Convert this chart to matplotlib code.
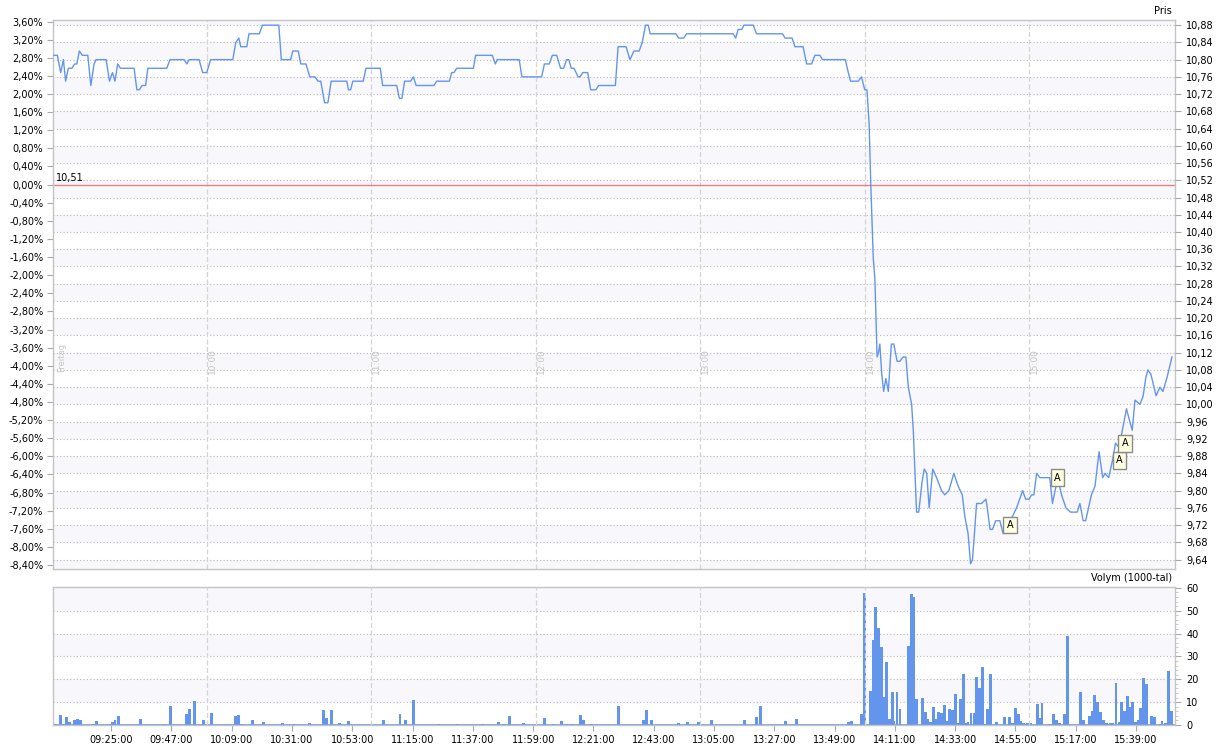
import matplotlib
matplotlib.use("Agg")
import matplotlib.pyplot as plt
import numpy as np

REF = 10.51  # reference price (0 %)

# intraday price, x = minutes after 09:00
price_min = [4.2, 5.4, 6.6, 7.6, 8.4, 9.4, 10.7, 11.7, 12.5, 13.4, 14.5, 16.5, 17.6, 18.8, 19.5,
             23.2, 24.4, 25.5, 26.4, 27.4, 28.4, 33.4, 34.4, 35.3, 36.3, 37.6, 38.4, 45.3, 46.5,
             51.7, 52.6, 53.5, 57.1, 58.4, 59.9, 61.3, 69.4, 70.5, 71.6, 72.3, 74.5, 75.3, 79.1,
             80.2, 86.2, 87.1, 90.5, 91.3, 93.3, 94.2, 96.1, 97.5, 99.4, 100.5, 101.5, 102.9,
             104.1, 105.3, 111.0, 111.6, 112.4, 113.2, 117.0, 118.0, 123.2, 124.1, 129.2, 130.2,
             131.1, 132.1, 134.3, 135.3, 136.3, 142.8, 143.8, 148.4, 149.3, 150.1, 151.1, 157.2,
             158.0, 164.1, 165.2, 165.9, 173.9, 174.9, 182.1, 183.1, 184.9, 186.0, 187.6, 189.0,
             190.1, 191.2, 192.0, 192.9, 193.9, 195.4, 196.1, 197.1, 198.9, 200.0, 201.9, 202.9,
             209.0, 210.0, 212.9, 214.3, 215.8, 217.7, 218.8, 220.0, 221.0, 221.7, 231.1, 232.1,
             233.9, 235.0, 252.0, 252.9, 253.8, 255.1, 255.9, 259.3, 260.5, 270.0, 270.9, 273.5,
             274.5, 277.5, 278.8, 280.6, 281.8, 283.6, 284.6, 292.9, 294.0, 294.8, 297.6, 298.8,
             300.0, 300.8, 301.6, 302.2, 303.1, 303.7, 304.5, 305.0, 305.5, 306.2, 306.9, 307.7,
             308.6, 309.7, 310.6, 311.8, 312.8, 314.0, 315.0, 315.9, 317.1, 317.7, 318.9, 319.7,
             320.9, 321.7, 322.6, 323.5, 324.8, 326.2, 328.0, 329.2, 330.7, 332.5, 334.1, 335.6,
             336.5, 337.7, 338.6, 339.3, 339.9, 340.8, 342.6, 344.2, 344.7, 345.7, 346.6, 347.8,
             349.3, 350.5, 351.5, 353.9, 355.4, 357.6, 358.7, 359.9, 360.9, 361.7, 362.7, 363.9,
             366.3, 367.5, 368.5, 370.4, 371.8, 373.4, 375.1, 377.5, 378.5, 379.7, 380.6, 382.7,
             384.0, 385.5, 386.8, 387.7, 389.0, 390.4, 391.5, 392.8, 395.5, 396.7, 397.6, 398.6,
             400.4, 401.6, 402.5, 403.3, 404.4, 406.3, 407.7, 408.8, 410.2, 412.1]
price = [10.81, 10.81, 10.77, 10.80, 10.75, 10.78, 10.78, 10.79, 10.79, 10.82, 10.81, 10.81, 10.74,
         10.79, 10.80, 10.80, 10.75, 10.77, 10.75, 10.79, 10.78, 10.78, 10.73, 10.73, 10.74, 10.74,
         10.78, 10.78, 10.80, 10.80, 10.79, 10.80, 10.80, 10.77, 10.77, 10.80, 10.80, 10.84, 10.85,
         10.83, 10.83, 10.86, 10.86, 10.88, 10.88, 10.80, 10.80, 10.82, 10.82, 10.79, 10.79, 10.76,
         10.76, 10.75, 10.75, 10.70, 10.70, 10.75, 10.75, 10.73, 10.73, 10.75, 10.75, 10.78, 10.78,
         10.74, 10.74, 10.71, 10.71, 10.75, 10.75, 10.76, 10.74, 10.74, 10.75, 10.75, 10.77, 10.77,
         10.78, 10.78, 10.81, 10.81, 10.79, 10.80, 10.80, 10.76, 10.76, 10.79, 10.79, 10.81, 10.81,
         10.78, 10.78, 10.80, 10.80, 10.78, 10.78, 10.76, 10.76, 10.77, 10.77, 10.73, 10.73, 10.74,
         10.74, 10.83, 10.83, 10.80, 10.82, 10.82, 10.84, 10.88, 10.88, 10.86, 10.86, 10.85, 10.85,
         10.86, 10.86, 10.85, 10.87, 10.87, 10.88, 10.88, 10.86, 10.86, 10.85, 10.85, 10.83, 10.83,
         10.79, 10.79, 10.81, 10.81, 10.80, 10.80, 10.77, 10.75, 10.75, 10.76, 10.73, 10.73, 10.65,
         10.51, 10.34, 10.29, 10.11, 10.12, 10.14, 10.07, 10.03, 10.06, 10.03, 10.14, 10.14, 10.10,
         10.10, 10.11, 10.11, 10.04, 10.00, 9.94, 9.75, 9.75, 9.82, 9.85, 9.84, 9.76, 9.85, 9.83,
         9.80, 9.79, 9.80, 9.84, 9.81, 9.79, 9.74, 9.70, 9.63, 9.64, 9.69, 9.77, 9.77, 9.78, 9.76,
         9.71, 9.71, 9.73, 9.73, 9.70, 9.72, 9.74, 9.76, 9.80, 9.78, 9.78, 9.79, 9.79, 9.84, 9.83,
         9.83, 9.83, 9.77, 9.83, 9.79, 9.76, 9.75, 9.75, 9.77, 9.73, 9.73, 9.79, 9.81, 9.89, 9.83,
         9.84, 9.83, 9.87, 9.91, 9.90, 9.99, 9.96, 9.94, 10.01, 10.00, 10.02, 10.06, 10.08, 10.07,
         10.02, 10.04, 10.03, 10.06, 10.11]

# volume per minute (1000-tal)
vol_min = [4.8, 6.5, 7.6, 8.7, 9.8, 11.7, 12.7, 13.8, 18.5, 19.6, 24.7, 25.5, 26.4, 27.6, 35.7, 44.4,
           46.6, 52.5, 53.5, 55.4, 58.7, 61.6, 70.3, 71.4, 72.5, 76.5, 80.5, 87.5, 91.5, 97.3, 102.4,
           103.5, 105.3, 108.3, 111.5, 124.3, 130.4, 132.3, 135.3, 144.4, 151.3, 160.4, 166.3, 168.1,
           170.3, 175.4, 183.1, 186.3, 189.3, 191.1, 193.3, 196.2, 197.3, 200.2, 210.1, 219.2, 220.3,
           222.1, 231.9, 235.2, 239.2, 244.0, 256.0, 260.6, 261.9, 271.0, 275.0, 294.1, 295.2, 298.9,
           300.0, 302.0, 303.1, 303.8, 304.9, 306.0, 307.1, 307.8, 308.9, 310.0, 310.7, 311.8, 312.9,
           315.9, 317.0, 318.0, 318.8, 321.0, 322.1, 322.8, 323.9, 325.0, 326.1, 326.8, 327.9, 329.0,
           330.1, 330.8, 331.9, 333.0, 334.1, 334.8, 335.9, 337.0, 337.7, 338.8, 339.9, 340.7, 341.8,
           342.9, 344.0, 344.7, 345.8, 348.0, 350.9, 352.7, 353.8, 354.9, 356.0, 356.7, 357.8, 359.3,
           360.7, 362.9, 364.0, 364.7, 367.3, 368.8, 369.9, 371.0, 372.8, 373.9, 378.6, 379.7, 381.9,
           383.0, 383.7, 384.8, 385.9, 387.0, 388.1, 389.6, 390.6, 391.7, 392.8, 393.6, 394.7, 395.8,
           396.8, 397.6, 398.7, 399.8, 400.5, 401.6, 402.7, 404.5, 405.6, 407.8, 408.5, 409.6, 410.7,
           411.8]
vol = [0.6, 4.5, 0.6, 3.6, 1.5, 2.3, 2.8, 2.3, 0.6, 1.9, 0.6, 1.5, 2.3, 4.1, 2.8, 0.6,
       8.5, 5.0, 7.2, 10.7, 2.3, 5.4, 4.1, 4.5, 0.6, 2.3, 1.5, 1.0, 0.6, 1.0, 6.7,
       3.2, 6.7, 1.0, 1.9, 2.3, 5.0, 2.3, 11.1, 0.6, 0.6, 0.6, 1.5, 0.6,
       4.1, 1.0, 3.2, 0.6, 1.9, 0.6, 0.6, 4.5, 2.3, 0.6, 8.5, 2.3, 6.7,
       2.3, 1.0, 1.5, 1.5, 2.3, 2.3, 3.6, 8.5, 1.9, 2.8, 1.5, 1.9, 5.0,
       57.8, 14.9, 37.4, 51.8, 42.6, 34.2, 12.4, 27.7, 2.8, 14.5, 1.9, 14.5, 7.2,
       34.7, 57.4, 56.2, 11.4, 12.0, 5.8, 2.8, 1.5, 8.0, 2.6, 5.8, 5.4, 8.9,
       1.9, 7.2, 6.7, 13.7, 1.0, 11.5, 22.5, 1.0, 1.5, 5.4, 5.1, 21.2, 16.1,
       25.5, 0.6, 7.2, 22.5, 1.5, 3.6, 3.6, 1.0, 7.6, 5.0, 1.9, 1.0, 1.0,
       1.0, 9.3, 3.2, 9.8, 0.6, 5.0, 2.3, 1.0, 5.0, 39.0, 14.5, 2.3, 4.1,
       6.3, 13.1, 10.2, 5.8, 2.3, 1.0, 1.0, 1.0, 18.4, 1.5, 10.2, 6.3, 12.8,
       8.0, 10.2, 1.5, 2.3, 7.6, 20.7, 18.1, 4.1, 3.6, 0.6, 1.9, 1.0, 23.8,
       6.3]

# "A" markers on the price line
ann_min = [353.0, 370.3, 392.9, 394.9]
ann_price = [9.72, 9.83, 9.87, 9.91]

BLUE = "#6495ed"
GRID = "#b8b8b8"
BAND = "#f8f8fc"
SPINE = "#c4c4c4"
HOURC = "#d4d4d4"

pct_ticks = np.linspace(-8.4, 3.6, 31)
price_ticks = np.round(np.arange(9.64, 10.8801, 0.04), 2)
hours = [60, 120, 180, 240, 300, 360]
time_ticks = list(range(25, 400, 22))
XLIM = (3.8, 413.2)
YLIM = (9.618, 10.892)


def fmt_time(m):
    h, mm = divmod(int(m), 60)
    return f"{h + 9:02d}:{mm:02d}:00"


def style_spines(a):
    for s in a.spines.values():
        s.set_color(SPINE)
        s.set_linewidth(1.0)


fig = plt.figure(figsize=(12.19, 7.51), dpi=100)
ax = fig.add_axes([53 / 1219, 1 - 569 / 751, 1122 / 1219, 549 / 751])
axv = fig.add_axes([53 / 1219, 1 - 725 / 751, 1122 / 1219, 138 / 751])

# ---- price panel ----
ax.set_xlim(*XLIM)
ax.set_ylim(*YLIM)
edges = [YLIM[0]] + list(price_ticks) + [YLIM[1]]
for i, (a, b) in enumerate(zip(edges[:-1], edges[1:])):
    if i % 2 == 0:
        ax.axhspan(a, b, color=BAND, lw=0, zorder=0)
ax.hlines(price_ticks, *XLIM, colors=GRID, linestyles=(0, (1, 2)), lw=0.8, zorder=1)
for h in hours:
    ax.axvline(h, color=HOURC, ls=(0, (4, 2)), lw=0.9, zorder=1)
    ax.text(h + 2.0, 10.07, f"{h // 60 + 9}:00", rotation=90, ha="center", va="bottom",
            fontsize=6.5, color="#c4c4c4")
ax.text(6.9, 10.075, "Freitag", rotation=90, ha="center", va="bottom", fontsize=6, color="#c4c4c4")
ax.axhline(REF, color="#f08080", lw=1.0, zorder=2)
ax.text(5.0, REF + 0.004, "10,51", fontsize=7, va="bottom", ha="left")
ax.plot(price_min, price, color=BLUE, lw=1.0, zorder=3)
for m, p in zip(ann_min, ann_price):
    ax.text(m, p, "A", fontsize=7, ha="center", va="center", zorder=5,
            bbox=dict(boxstyle="square,pad=0.35", fc="#ffffe1", ec="#8a8a8a", lw=1))

ax.set_yticks(REF * (1 + pct_ticks / 100))
ax.set_yticklabels([f"{round(p, 2) + 0.0:.2f}%".replace(".", ",") for p in pct_ticks])
ax.tick_params(axis="y", length=4, color="#a8a8a8", labelsize=7, pad=3)
ax.tick_params(axis="x", bottom=False, labelbottom=False)
style_spines(ax)

ax2 = ax.twinx()
ax2.set_ylim(*YLIM)
ax2.set_yticks(price_ticks)
ax2.set_yticklabels([f"{p:.2f}".replace(".", ",") for p in price_ticks])
ax2.tick_params(axis="y", length=4, color="#a8a8a8", labelsize=7, pad=4)
for s in ax2.spines.values():
    s.set_visible(False)
fig.text(1172 / 1219, 1 - 11 / 751, "Pris", ha="right", va="center", fontsize=7)

# ---- volume panel ----
axv.set_xlim(*XLIM)
axv.set_ylim(0, 60.4)
vedges = [0, 10, 20, 30, 40, 50, 60.4]
for i, (a, b) in enumerate(zip(vedges[:-1], vedges[1:])):
    if i % 2 == 1:
        axv.axhspan(a, b, color=BAND, lw=0, zorder=0)
axv.hlines([10, 20, 30, 40, 50], *XLIM, colors=GRID, linestyles=(0, (1, 2)), lw=0.8, zorder=1)
axv.bar(vol_min, vol, width=1.0, color=BLUE, lw=0, zorder=2)
axv.axhline(0.15, color=BLUE, lw=1.2, zorder=2)
for h in hours:
    axv.axvline(h, color=HOURC, ls=(0, (4, 2)), lw=0.9, zorder=3)

axv.yaxis.tick_right()
axv.set_yticks(range(0, 61, 10))
axv.set_yticks(range(0, 61, 2), minor=True)
axv.tick_params(axis="y", which="major", length=4, color="#a8a8a8", labelsize=7, pad=4)
axv.tick_params(axis="y", which="minor", length=2, color="#c0c0c0")
axv.set_xticks(time_ticks)
axv.set_xticklabels([fmt_time(m) for m in time_ticks])
axv.tick_params(axis="x", length=4, color="#a8a8a8", labelsize=7, pad=3)
style_spines(axv)
fig.text(1172 / 1219, 1 - 578 / 751, "Volym (1000-tal)", ha="right", va="center", fontsize=7)

fig.savefig("out.png", dpi=100)
